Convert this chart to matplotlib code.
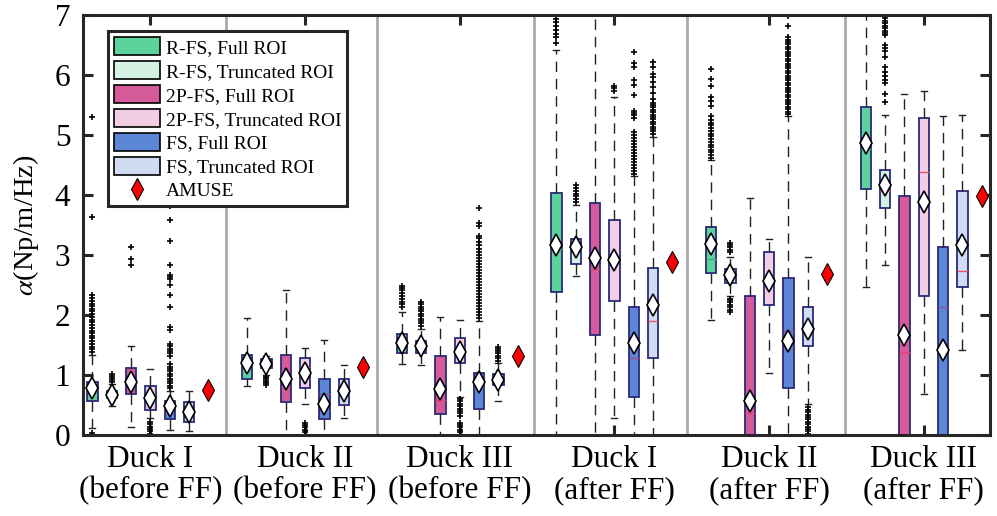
import numpy as np
import matplotlib.pyplot as plt
from matplotlib.patches import Patch
from matplotlib.lines import Line2D

plt.rcParams['font.family'] = ['Liberation Serif', 'DejaVu Serif']
plt.rcParams['mathtext.fontset'] = 'stix'

groups = ['Duck I\n(before FF)', 'Duck II\n(before FF)', 'Duck III\n(before FF)',
          'Duck I\n(after FF)', 'Duck II\n(after FF)', 'Duck III\n(after FF)']
methods = ['R-FS, Full ROI', 'R-FS, Truncated ROI', '2P-FS, Full ROI',
           '2P-FS, Truncated ROI', 'FS, Full ROI', 'FS, Truncated ROI']
face_colors = ['#5CD29C', '#D3F2E4', '#D45A9A', '#F2CDE3', '#5B87D6', '#D0DCF2']
median_colors = ['#3FAE7A', '#E8505A', '#E0407A', '#E8505A', '#9050A0', '#E8505A']

# box statistics, one row per duck/condition, one column per method
q1 = [[0.56, 0.61, 0.69, 0.42, 0.26, 0.22],
      [0.94, 1.12, 0.55, 0.79, 0.27, 0.50],
      [1.36, 1.36, 0.35, 1.20, 0.43, 0.83],
      [2.39, 2.85, 1.67, 2.23, 0.64, 1.28],
      [2.70, 2.54, 0.00, 2.16, 0.79, 1.48],
      [4.10, 3.78, 0.00, 2.31, 0.00, 2.46]]
med = [[0.75, 0.67, 0.88, 0.60, 0.45, 0.38],
       [1.15, 1.19, 0.90, 1.14, 0.68, 0.72],
       [1.52, 1.47, 0.58, 1.46, 0.80, 0.92],
       [3.10, 3.10, 2.77, 2.90, 1.28, 1.90],
       [2.94, 2.66, 0.36, 2.65, 1.73, 1.80],
       [4.77, 4.06, 1.39, 4.38, 2.13, 2.73]]
q3 = [[0.89, 0.73, 1.11, 0.81, 0.57, 0.55],
      [1.34, 1.26, 1.33, 1.29, 0.93, 0.93],
      [1.68, 1.56, 1.31, 1.62, 1.04, 1.01],
      [4.03, 3.27, 3.87, 3.59, 2.13, 2.78],
      [3.47, 2.76, 2.31, 3.05, 2.61, 2.13],
      [5.47, 4.42, 3.99, 5.29, 3.13, 4.06]]
whislo = [[0.12, 0.49, 0.13, 0.28, 0.09, 0.07],
          [0.82, 1.00, -0.5, 0.51, -0.5, 0.28],
          [1.18, 1.17, -0.5, 0.63, -0.5, 0.57],
          [-0.5, 2.65, -0.5, 0.28, -0.5, -0.5],
          [1.92, 2.32, -0.5, 1.04, -0.5, 0.52],
          [2.46, 2.83, -0.5, 0.68, -0.5, 1.41]]
whishi = [[1.33, 0.85, 1.49, 1.10, 0.74, 0.73],
          [1.95, 1.31, 2.42, 1.45, 1.59, 1.16],
          [2.05, 1.77, 1.96, 1.92, 1.90, 1.20],
          [6.41, 3.83, 7.50, 5.63, 4.32, 4.97],
          [4.58, 2.97, 3.95, 3.27, 5.31, 2.97],
          [7.50, 5.33, 5.68, 5.74, 5.31, 5.34]]
means = [[0.79, 0.67, 0.89, 0.62, 0.49, 0.39],
         [1.20, 1.19, 0.94, 1.04, 0.52, 0.73],
         [1.54, 1.49, 0.76, 1.38, 0.88, 0.92],
         [3.16, 3.14, 2.95, 2.91, 1.53, 2.17],
         [3.18, 2.66, 0.57, 2.57, 1.57, 1.76],
         [4.86, 4.16, 1.66, 3.89, 1.42, 3.17]]
amuse = [0.75, 1.13, 1.32, 2.89, 2.69, 3.98]

outliers = [
    [[0.03, 1.38, 1.43, 1.47, 1.52, 1.56, 1.61, 1.65, 1.70, 1.74, 1.79, 1.83, 1.88, 1.92,
      1.97, 2.01, 2.06, 2.10, 2.15, 2.19, 2.24, 2.28, 2.33, 3.63, 5.30],
     [0.88, 0.92, 0.95, 0.98, 1.02],
     [2.84, 2.94, 3.13],
     [0.02, 0.06, 0.10, 0.14, 0.18, 0.21],
     [0.78, 0.82, 0.86, 0.90, 0.94, 0.98, 1.02, 1.06, 1.10, 1.14, 1.18, 1.32, 1.36, 1.40,
      1.44, 1.48, 1.52, 1.75, 1.80, 2.14, 2.34, 2.50, 2.60, 2.63, 2.67, 2.83, 3.24, 3.59, 3.82],
     []],
    [[], [0.83, 0.86, 0.89, 0.92, 0.95, 0.97], [], [0.05, 0.09, 0.13, 0.17, 0.20], [], []],
    [[2.13, 2.18, 2.22, 2.27, 2.31, 2.36, 2.41, 2.45, 2.49],
     [1.82, 1.86, 1.90, 1.94, 1.98, 2.02, 2.06, 2.10, 2.14, 2.18, 2.21],
     [],
     [0.05, 0.09, 0.13, 0.17, 0.20, 0.32, 0.36, 0.40, 0.44, 0.48, 0.52, 0.56, 0.60],
     [1.95, 2.00, 2.05, 2.10, 2.15, 2.20, 2.25, 2.30, 2.35, 2.40, 2.45, 2.50, 2.55, 2.60,
      2.65, 2.70, 2.75, 2.80, 2.85, 2.90, 2.95, 3.00, 3.05, 3.10, 3.16, 3.22, 3.28, 3.32,
      3.48, 3.53, 3.79],
     [1.24, 1.28, 1.32, 1.36, 1.40, 1.44, 1.46]],
    [[6.53, 6.64, 6.68, 6.75, 6.82, 6.88, 6.93, 7.00],
     [3.88, 3.93, 3.98, 4.02, 4.07, 4.11, 4.16],
     [],
     [5.74, 5.78, 5.82],
     [4.35, 4.40, 4.45, 4.50, 4.55, 4.60, 4.65, 4.70, 4.75, 4.80, 4.85, 4.90, 4.95, 5.00,
      5.05, 5.29, 5.33, 5.37, 5.40, 5.67, 5.83, 5.92, 6.13, 6.20, 6.38],
     [5.02, 5.06, 5.10, 5.14, 5.18, 5.22, 5.26, 5.30, 5.34, 5.38, 5.42, 5.46, 5.50, 5.53,
      5.60, 5.70, 5.80, 5.88, 5.97, 6.02, 6.13, 6.21]],
    [[4.62, 4.66, 4.71, 4.75, 4.80, 4.84, 4.89, 4.93, 4.98, 5.02, 5.07, 5.11, 5.16, 5.20,
      5.25, 5.31, 5.48, 5.56, 5.63, 5.81, 5.93, 6.10],
     [2.05, 2.09, 2.13, 2.17, 2.21, 2.25, 2.27, 3.05, 3.09, 3.13, 3.17, 3.20],
     [],
     [],
     [5.35, 5.39, 5.43, 5.47, 5.51, 5.55, 5.59, 5.63, 5.67, 5.71, 5.75, 5.79, 5.83, 5.87,
      5.91, 5.95, 5.99, 6.03, 6.07, 6.11, 6.15, 6.19, 6.23, 6.27, 6.31, 6.35, 6.39, 6.43,
      6.47, 6.51, 6.55, 6.59, 6.63, 6.81, 6.98],
     [0.02, 0.06, 0.10, 0.14, 0.18, 0.22, 0.26, 0.30, 0.34, 0.38, 0.42, 0.46]],
    [[],
     [5.55, 5.68, 5.86, 5.92, 5.98, 6.05, 6.13, 6.30, 6.40, 6.45, 6.50, 6.66, 6.70, 6.74,
      6.78, 6.82, 6.86, 6.90, 6.95, 6.99],
     [], [], [], []],
]

separators = [7.9, 15.7, 23.85, 31.75, 39.95]

fig = plt.figure(figsize=(9.97, 5.16), dpi=100)
ax = fig.add_axes([0.083, 0.157, 0.9095, 0.814])

for s in separators:
    ax.axvline(s, color='#AAAAAA', lw=2, zorder=0.5)

for g in range(6):
    pos = [1 + 8 * g + k for k in range(6)]
    stats = []
    for k in range(6):
        stats.append(dict(q1=q1[g][k], med=med[g][k], q3=q3[g][k],
                          whislo=whislo[g][k], whishi=whishi[g][k],
                          mean=means[g][k], fliers=outliers[g][k]))
    bp = ax.bxp(stats, positions=pos, widths=0.53, capwidths=0.31,
                patch_artist=True, showmeans=True, manage_ticks=False,
                boxprops=dict(edgecolor='#2A2A7A', linewidth=1.3),
                whiskerprops=dict(color='#222222', linestyle=(0, (7.5, 5)), linewidth=1.0),
                capprops=dict(color='#222222', linewidth=1.0),
                flierprops=dict(marker='+', markeredgecolor='black', markersize=5,
                                markeredgewidth=1.2),
                meanprops=dict(marker='d', markerfacecolor='white',
                               markeredgecolor='black', markersize=11,
                               markeredgewidth=1.2),
                zorder=2)
    for k, box in enumerate(bp['boxes']):
        box.set_facecolor(face_colors[k])
    for k, m in enumerate(bp['medians']):
        m.set_color(median_colors[k])
        m.set_linewidth(1.0)
    ax.plot(1 + 8 * g + 6, amuse[g], marker='d', color='red', markeredgecolor='black',
            markersize=11, markeredgewidth=0.8, zorder=4)

ax.set_xlim(0.5, 47.4)
ax.set_ylim(0, 7)
ax.set_xticks([4 + 8 * g for g in range(6)])
ax.set_xticklabels(groups, linespacing=1.12)
ax.set_yticks(range(8))
ax.tick_params(axis='both', direction='in', length=7, width=2.2, top=True, right=True,
               labelsize=22.5, colors='#262626', labelcolor='black')
ax.tick_params(axis='x', pad=7)
ax.tick_params(axis='y', pad=9)
for sp in ax.spines.values():
    sp.set_linewidth(2.2)
    sp.set_color('#262626')
ax.set_ylabel(r'$\alpha$(Np/m/Hz)', fontsize=20.5, labelpad=10)

handles = [Patch(facecolor=c, edgecolor='black', linewidth=1.2) for c in face_colors]
handles.append(Line2D([], [], linestyle='none', marker='d', color='red',
                      markeredgecolor='black', markersize=11, markeredgewidth=0.8))
leg = ax.legend(handles, methods + ['AMUSE'], loc='upper left',
                bbox_to_anchor=(0.0275, 0.961), borderaxespad=0, fontsize=14,
                handlelength=2.4, handleheight=1.05, labelspacing=0.22,
                handletextpad=0.3, borderpad=0.3, fancybox=False, framealpha=1)
leg.get_frame().set_edgecolor('#262626')
leg.get_frame().set_linewidth(2.2)

plt.savefig('out.png', dpi=100)
